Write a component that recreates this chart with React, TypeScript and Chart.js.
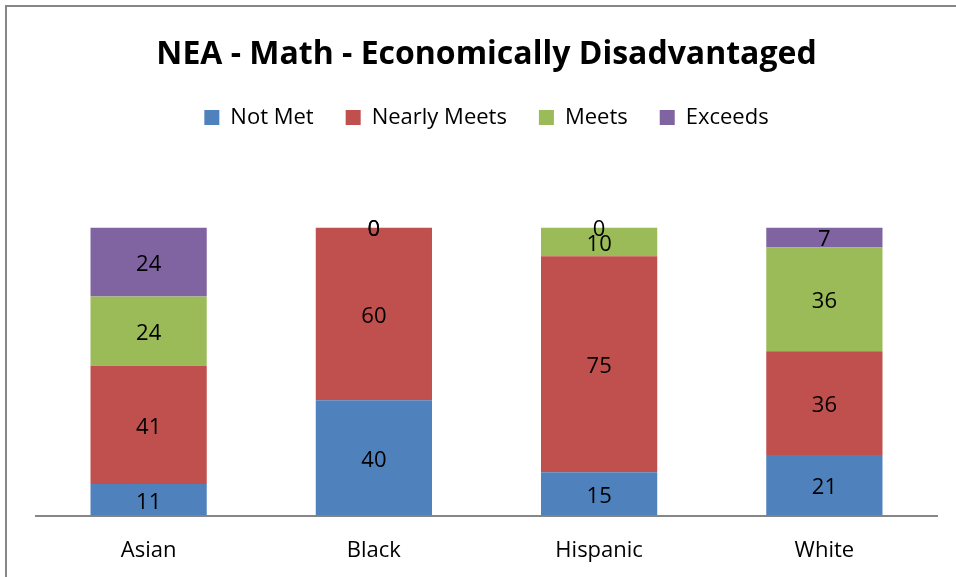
import React, { useEffect, useRef } from "react";
import { Chart, registerables } from "chart.js";

Chart.register(...registerables);

const categories = ["Asian", "Black", "Hispanic", "White"];
const notMet = [11, 40, 15, 21];
const nearlyMeets = [41, 60, 75, 36];
const meets = [24, 0, 10, 36];
const exceeds = [24, 0, 0, 7];
const seriesNames = ["Not Met", "Nearly Meets", "Meets", "Exceeds"];
const seriesColors = ["#4F81BD", "#C0504D", "#9BBB59", "#8064A2"];
const titleText = "NEA - Math - Economically Disadvantaged";

const FONT = "'Open Sans', 'Noto Sans', sans-serif";

const frameAndLabels = {
  id: "frameAndLabels",
  beforeInit(chart: any) {
    const legend = chart.legend;
    if (legend && !legend.__patched) {
      const orig = legend.fit.bind(legend);
      legend.fit = function () {
        orig();
        this.height += 89;
      };
      legend.__patched = true;
    }
  },
  beforeDraw(chart: any) {
    const ctx = chart.ctx;
    ctx.save();
    ctx.fillStyle = "#ffffff";
    ctx.fillRect(0, 0, chart.width, chart.height);
    ctx.strokeStyle = "#868686";
    ctx.lineWidth = 2;
    ctx.strokeRect(6, 6, chart.width + 10, chart.height + 10);
    ctx.restore();
  },
  afterDatasetsDraw(chart: any) {
    const ctx = chart.ctx;
    ctx.save();
    ctx.font = `22px ${FONT}`;
    ctx.fillStyle = "#000000";
    ctx.textAlign = "center";
    ctx.textBaseline = "middle";
    chart.data.datasets.forEach((ds: any, di: number) => {
      const meta = chart.getDatasetMeta(di);
      meta.data.forEach((el: any, i: number) => {
        const v = ds.data[i];
        const y = (el.y + el.base) / 2 + 2.5;
        ctx.fillText(String(v), el.x, y);
      });
    });
    ctx.restore();
  },
};

export default function App() {
  const ref = useRef<HTMLCanvasElement | null>(null);
  useEffect(() => {
    if (!ref.current) return;
    const data = [notMet, nearlyMeets, meets, exceeds];
    const chart = new Chart(ref.current, {
      type: "bar",
      data: {
        labels: categories,
        datasets: seriesNames.map((name, i) => ({
          label: name,
          data: data[i],
          backgroundColor: seriesColors[i],
          borderWidth: 0,
          categoryPercentage: 0.516,
          barPercentage: 1,
        })),
      },
      options: {
        responsive: false,
        animation: false,
        layout: { padding: { top: 17, left: 36, right: 19, bottom: -9 } },
        plugins: {
          title: {
            display: true,
            text: titleText,
            color: "#000000",
            font: { family: FONT, size: 32, weight: "bold" },
            padding: { top: 19, bottom: 0 },
          },
          legend: {
            display: true,
            position: "top",
            labels: {
              boxWidth: 15,
              boxHeight: 15,
              padding: 32,
              color: "#000000",
              font: { family: FONT, size: 22 },
            },
          },
          tooltip: { enabled: false },
        },
        scales: {
          x: {
            stacked: true,
            grid: { display: false, drawTicks: false },
            border: { display: true, color: "#868686", width: 2 },
            ticks: { color: "#000000", padding: 22, font: { family: FONT, size: 22 } },
          },
          y: {
            stacked: true,
            display: false,
            min: 0,
            max: 100,
          },
        },
      },
      plugins: [frameAndLabels],
    });
    return () => chart.destroy();
  }, []);
  return (
    <div style={{ position: "absolute", left: 0, top: 0, width: 956, height: 577 }}>
      <canvas ref={ref} width={956} height={577} />
    </div>
  );
}
